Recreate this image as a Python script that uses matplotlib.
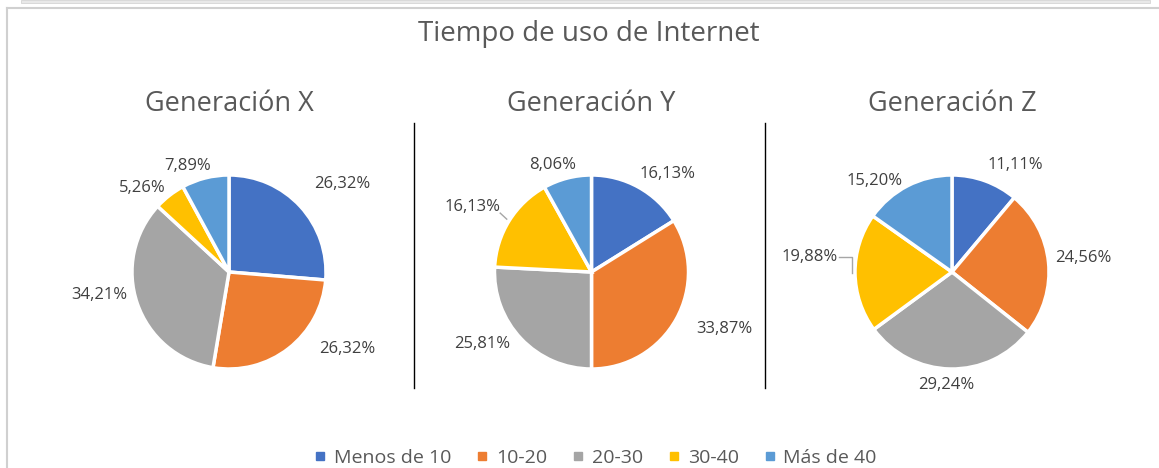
import numpy as np
import matplotlib.pyplot as plt
from matplotlib.lines import Line2D
from matplotlib.patches import Rectangle

plt.rcParams['font.family'] = ['Open Sans', 'DejaVu Sans']

title = 'Tiempo de uso de Internet'
categories = ['Menos de 10', '10-20', '20-30', '30-40', 'Más de 40']
colors = ['#4472C4', '#ED7D31', '#A5A5A5', '#FFC000', '#5B9BD5']

generations = ['Generación X', 'Generación Y', 'Generación Z']
gen_x = [26.32, 26.32, 34.21, 5.26, 7.89]
gen_y = [16.13, 33.87, 25.81, 16.13, 8.06]
gen_z = [11.11, 24.56, 29.24, 19.88, 15.20]

# Excel "best fit" label placement: distance (in radii) and angle nudge from wedge middle
label_r = [[1.48, 1.45, 1.36, 1.25, 1.17],
           [1.28, 1.49, 1.35, 1.40, 1.17],
           [1.28, 1.36, 1.17, 1.48, 1.23]]
label_shift = [[-5, 19, -9, 8, 7],
               [-9, 6, -10, 3.5, 5.5],
               [-10.5, 0.5, -2, -6.5, 13]]
leaders = [{}, {3: 'line'}, {3: 'elbow'}]

W, H = 1159, 468
fig = plt.figure(figsize=(W / 100, H / 100), dpi=100)

# background axes in pixel coords for frame, separators and titles
bg = fig.add_axes([0, 0, 1, 1])
bg.set_xlim(0, W)
bg.set_ylim(H, 0)
bg.axis('off')
bg.add_patch(Rectangle((21, 0), 1129, 3, fc='#e8e8e8', ec='#d4d4d4', lw=0.6))
bg.plot([7, 7], [8, H], color='#d0d0d0', lw=1.5)
bg.plot([7, W], [8, 8], color='#d0d0d0', lw=1.5)
for x in (413.5, 765):
    bg.plot([x, x], [123, 388], color='black', lw=1)
bg.text(589, 34, title, ha='center', va='center', fontsize=20, color='#595959')

centers = [(229, 272), (591.5, 272), (952, 272)]
R = 97
S = 320

for k, (vals, name, (cx, cy)) in enumerate(zip([gen_x, gen_y, gen_z], generations, centers)):
    ax = fig.add_axes([(cx - S / 2) / W, (H - cy - S / 2) / H, S / W, S / H])
    wedges, _ = ax.pie(vals, colors=colors, startangle=90, counterclock=False,
                       wedgeprops=dict(edgecolor='white', linewidth=2.5))
    lim = S / 2 / R
    ax.set_xlim(-lim, lim)
    ax.set_ylim(-lim, lim)
    ax.set_aspect('equal')
    ax.axis('off')
    bg.text(cx, 104, name, ha='center', va='center', fontsize=19.5, color='#595959')

    for i, w in enumerate(wedges):
        mid = (w.theta1 + w.theta2) / 2
        a = np.deg2rad(mid + label_shift[k][i])
        r = label_r[k][i]
        lx, ly = r * np.cos(a), r * np.sin(a)
        txt = f'{vals[i]:.2f}%'.replace('.', ',')
        ax.text(lx, ly, txt, ha='center', va='center', fontsize=12,
                color='#404040', clip_on=False)
        kind = leaders[k].get(i)
        if kind:
            u = np.array([np.cos(np.deg2rad(mid)), np.sin(np.deg2rad(mid))])
            end = 1.03 * u
            if kind == 'line':
                xs, ys = [lx + 0.29, end[0]], [ly - 0.06, end[1]]
            else:
                xs, ys = [lx + 0.31, end[0], end[0]], [ly, ly, end[1]]
            ax.plot(xs, ys, color='#a6a6a6', lw=1, clip_on=False)

handles = [Line2D([], [], ls='none', marker='s', ms=6, mfc=c, mec=c) for c in colors]
fig.legend(handles, categories, loc='center', bbox_to_anchor=(595.5 / W, 1 - 458 / H),
           ncol=5, frameon=False, fontsize=14, handlelength=0.6, handletextpad=0.4,
           columnspacing=1.3, labelcolor='#595959')

fig.savefig('out.png', dpi=100)
